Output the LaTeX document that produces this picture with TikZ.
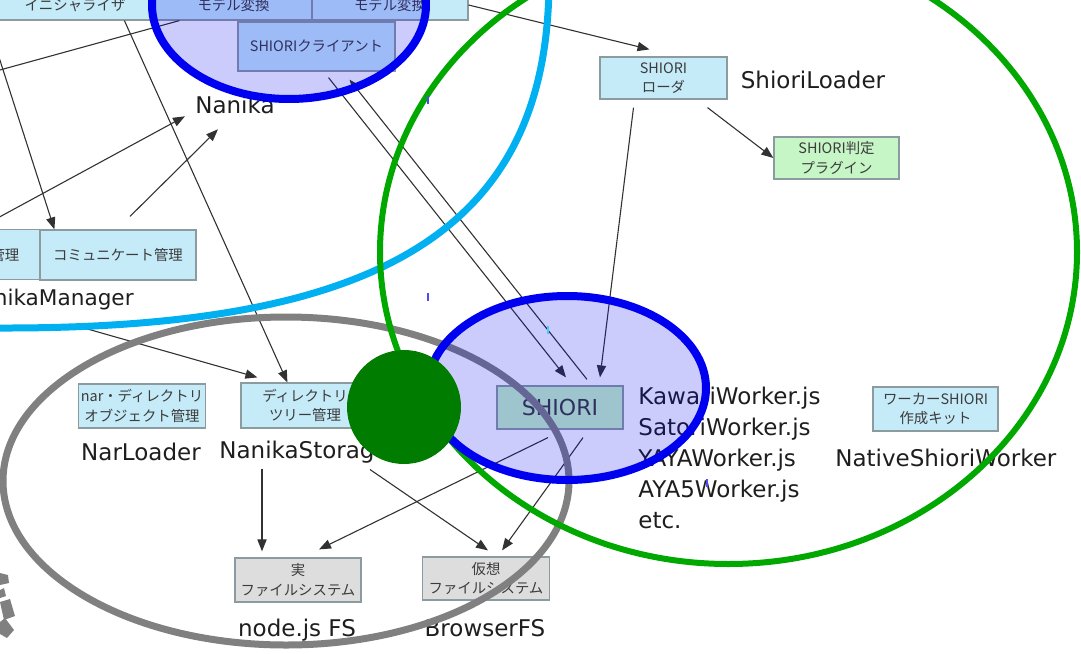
\documentclass[tikz,border=0pt]{standalone}
\usepackage{fontspec}
\setmainfont{DejaVu Sans}
\newfontfamily\jpfont{Noto Sans CJK JP}
\usetikzlibrary{positioning,arrows.meta,calc}
\definecolor{paleblue}{RGB}{197,234,248}
\definecolor{palegreen}{RGB}{198,245,198}
\definecolor{palegray}{RGB}{221,221,221}
\definecolor{boxedge}{RGB}{140,155,160}
\definecolor{boxtext}{RGB}{60,60,60}
\definecolor{lbltext}{RGB}{30,30,30}
\definecolor{wirec}{RGB}{50,50,50}
\definecolor{ringcyan}{RGB}{0,176,240}
\definecolor{ringgreen}{RGB}{0,168,0}
\definecolor{ringblue}{RGB}{0,0,240}
\definecolor{ringgray}{RGB}{128,128,128}
\definecolor{dotgreen}{RGB}{0,125,0}
\newcommand{\boxfont}{\jpfont\fontsize{7.2}{9.8}\selectfont}
\newcommand{\lblfont}{\fontsize{11.5}{15.5}\selectfont}

\begin{document}
\begin{tikzpicture}[x=0.5pt,y=-0.5pt,
  comp/.style={draw=boxedge,line width=0.6pt,fill=paleblue,text=boxtext,font=\boxfont,align=center,inner sep=0pt},
  lbl/.style={text=lbltext,font=\lblfont,inner sep=0pt},
  wire/.style={draw=wirec,line width=0.55pt},
  call/.style={wire,-{Triangle[length=6pt,width=4.6pt]}},
  hilite/.style={draw=ringblue,line width=4pt,fill=ringblue,fill opacity=0.2}]
\useasboundingbox (0,0) rectangle (1081,653);
\clip (0,0) rectangle (1081,653);
% ---- Nanika side (top left) ----
\node[comp,minimum width=80pt,minimum height=15pt] (init) at (75,5) {イニシャライザ};
\node[comp,minimum width=78.5pt,minimum height=15pt] (mdlA) at (233.5,5) {モデル変換};
\node[comp,minimum width=78pt,minimum height=15pt] (mdlB) at (390,5) {モデル変換};
\node[comp,minimum width=78.5pt,minimum height=24.5pt] (client) at (316.5,46.5) {SHIORIクライアント};
\node[lbl] (nanika) at (235,105) {Nanika};
\node[comp,minimum width=35pt,minimum height=25pt] (mgrA) at (5,254.5) {管理};
\node[comp,minimum width=78pt,minimum height=25pt] (comm) at (118,255) {コミュニケート管理};
\node[lbl,anchor=east,font=\fontsize{10.8}{13}\selectfont] (nkmgr) at (134,300) {NanikaManager};
% ---- ShioriLoader ----
\node[comp,minimum width=63.5pt,minimum height=21pt] (ldr) at (663.5,78) {SHIORI\\ローダ};
\node[lbl] (ldrname) at (813,80) {ShioriLoader};
\node[comp,fill=palegreen,minimum width=62.5pt,minimum height=21pt] (plugin) at (836.5,158) {SHIORI判定\\プラグイン};
% ---- storage side ----
\node[comp,minimum width=63.5pt,minimum height=22pt] (narobj) at (142,406) {nar・ディレクトリ\\オブジェクト管理};
\node[lbl] (narname) at (141,452) {NarLoader};
\node[comp,minimum width=64pt,minimum height=22.5pt] (dirtree) at (305,405.5) {ディレクトリ\\ツリー管理};
\node[lbl,anchor=west] (storage) at (219,452) {NanikaStorage};
\node[comp,fill=palegray,minimum width=63pt,minimum height=22pt] (realfs) at (298,580) {実\\ファイルシステム};
\node[lbl] (nodefs) at (297,630) {node.js FS};
\node[comp,fill=palegray,minimum width=63.5pt,minimum height=21.5pt] (virtfs) at (486,578.5) {仮想\\ファイルシステム};
\node[lbl] (bfs) at (485,628) {BrowserFS};
% ---- SHIORI workers ----
\node[comp,fill=palegreen,minimum width=63pt,minimum height=21.5pt,font=\fontsize{11}{13}\selectfont] (shiori) at (560,407.5) {SHIORI};
\node[lbl,anchor=west,align=left] (workers) at (638,458) {KawariWorker.js\\SatoriWorker.js\\YAYAWorker.js\\AYA5Worker.js\\etc.};
\node[comp,minimum width=62.5pt,minimum height=22pt] (kit) at (935.5,409) {ワーカーSHIORI\\作成キット};
\node[lbl,anchor=west] (native) at (835,458) {NativeShioriWorker};
% ---- connectors ----
\coordinate (offA) at (-40,81);
\coordinate (offB) at (-13,20);
\coordinate (offC) at (-30,233);
\draw[wire] (offA) -- ($(mdlA.south west)+(25,0)$);
\draw[call] ($(init.south west)+(130,0)$) -- ($(dirtree.north west)+(47,0)$);
\draw[call] (offB) -- ($(comm.north west)+(15,0)$);
\draw[call] (offC) -- ($(nanika.south west)+(-10,2)$);
\draw[call] ($(comm.north)+(12,-13)$) -- ($(nanika.south)+(-17,15)$);
\draw[call] ($(nkmgr.south)+(38,18)$) -- ($(dirtree.north west)+(17,-5)$);
\draw[call] (mdlB.east) -- ($(ldr.north)+(-14,-7)$);
\draw[call] ($(ldr.south)+(-30,8)$) -- ($(shiori.north)+(40,-8)$);
\draw[call] ($(ldr.south)+(44,8)$) -- (plugin.west);
\draw[call] ($(client.south)+(12,6)$) -- ($(shiori.north)+(6,-8)$);
\draw[call] ($(shiori.north)+(27,-6)$) -- ($(client.south)+(33,8)$);
\draw[call] ($(storage.south west)+(43,5)$) -- ($(realfs.north)+(-36,-6)$);
\draw[call] ($(storage.south west)+(151,6)$) -- ($(virtfs.north)+(2,-6)$);
\draw[call] ($(shiori.south)+(-12,8)$) -- ($(realfs.north)+(21,-8)$);
\draw[call] ($(shiori.south)+(23,8)$) -- ($(virtfs.north)+(16,-6)$);
% ---- groupings ----
\draw[ringgray,line width=3.5pt] (286,481) ellipse [x radius=283, y radius=164];
\draw[ringcyan,line width=3.5pt] (549,-20) .. controls (549,230) and (380,329) .. (0,328) -- (-60,330);
\draw[ringgreen,line width=3pt] (728.5,252) ellipse [x radius=348.5, y radius=312];
\draw[hilite] (289,5) ellipse [x radius=137, y radius=94];
\draw[hilite] (567,388) ellipse [x radius=139, y radius=92];
\fill[dotgreen] (404,407) circle [radius=57];
% ---- leftovers ----
\fill[ringblue!70] (427,96) rectangle (429,104);
\fill[ringblue!70] (427,293) rectangle (429,301);
\fill[ringcyan!70] (547,326) rectangle (549,334);
\fill[ringblue!70] (706,479) rectangle (708,487);
\fill[ringgray] (0,573) -- (8,575) -- (9,583) -- (0,585) -- cycle;
\fill[ringgray] (0,590) -- (4,588) -- (6,596) -- (0,598) -- cycle;
\fill[ringgray] (0,602) -- (10,599) -- (15,616) -- (4,620) -- cycle;
\fill[ringgray] (0,622) -- (5,618) -- (14,630) -- (7,638) -- (0,634) -- cycle;
\end{tikzpicture}
\end{document}
